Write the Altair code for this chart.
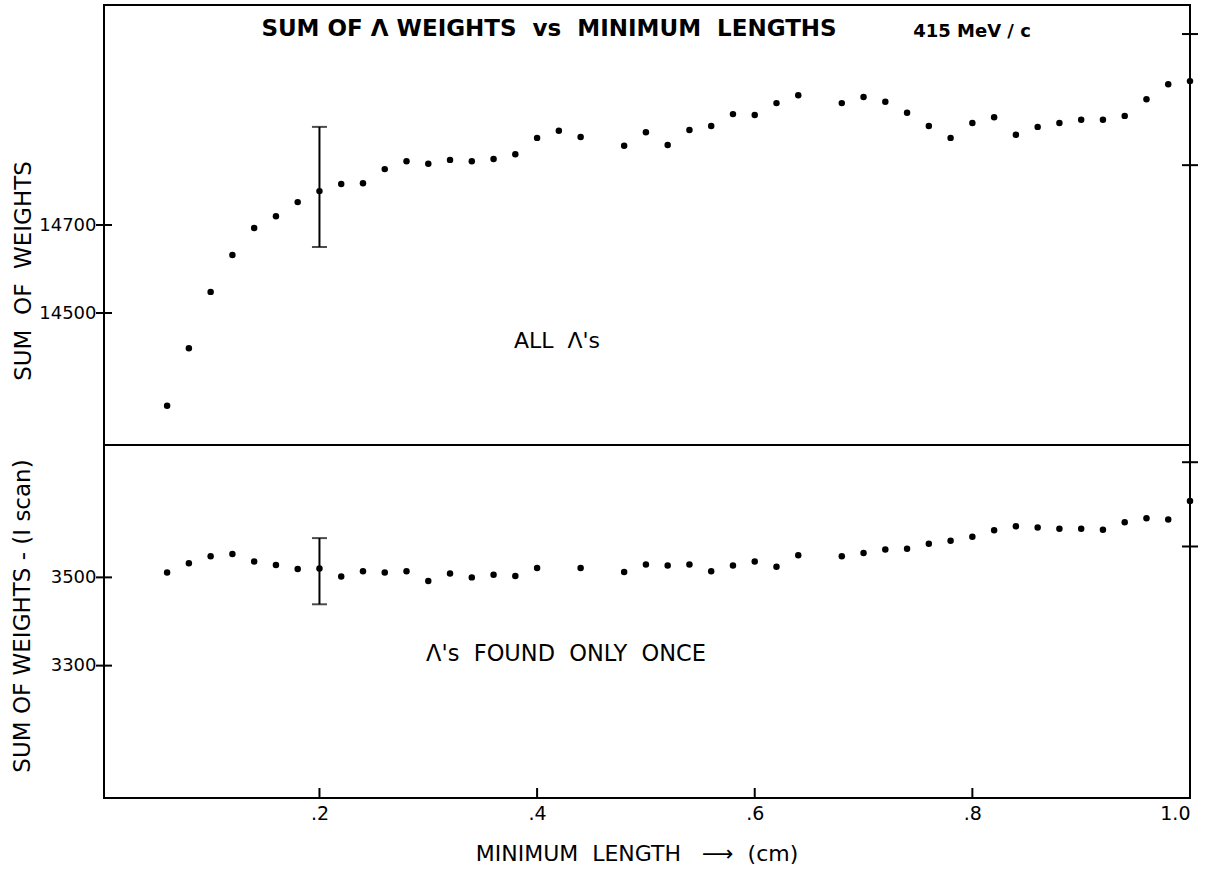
import altair as alt
import pandas as pd

# ---------------- data ----------------
x_top = [0.06, 0.08, 0.10, 0.12, 0.14, 0.16, 0.18, 0.20, 0.22, 0.24,
         0.26, 0.28, 0.30, 0.32, 0.34, 0.36, 0.38, 0.40, 0.42, 0.44,
         0.48, 0.50, 0.52, 0.54, 0.56, 0.58, 0.60, 0.62, 0.64,
         0.68, 0.70, 0.72, 0.74, 0.76, 0.78, 0.80, 0.82, 0.84, 0.86,
         0.88, 0.90, 0.92, 0.94, 0.96, 0.98, 1.00]
y_top = [14289, 14420, 14548, 14632, 14693, 14720, 14752, 14777, 14793, 14795,
         14827, 14845, 14839, 14848, 14845, 14850, 14861, 14898, 14914, 14900,
         14880, 14911, 14882, 14916, 14925, 14952, 14950, 14977, 14995,
         14977, 14991, 14980, 14955, 14925, 14898, 14932, 14945, 14905, 14923,
         14932, 14939, 14939, 14948, 14986, 15020, 15027]

x_bot = [0.06, 0.08, 0.10, 0.12, 0.14, 0.16, 0.18, 0.20, 0.22, 0.24,
         0.26, 0.28, 0.30, 0.32, 0.34, 0.36, 0.38, 0.40, 0.44,
         0.48, 0.50, 0.52, 0.54, 0.56, 0.58, 0.60, 0.62, 0.64,
         0.68, 0.70, 0.72, 0.74, 0.76, 0.78, 0.80, 0.82, 0.84, 0.86,
         0.88, 0.90, 0.92, 0.94, 0.96, 0.98, 1.00]
y_bot = [3511, 3532, 3548, 3553, 3536, 3528, 3519, 3520, 3502, 3514,
         3511, 3514, 3492, 3509, 3500, 3506, 3503, 3521, 3521,
         3512, 3529, 3527, 3529, 3514, 3527, 3536, 3524, 3550,
         3548, 3555, 3563, 3565, 3576, 3583, 3592, 3607, 3616, 3613,
         3610, 3610, 3608, 3625, 3634, 3631, 3673]

# error bars (x, low, high)
err_top_x, err_top_lo, err_top_hi = 0.20, 14650, 14923
err_bot_x, err_bot_lo, err_bot_hi = 0.20, 3439, 3589

# axis ticks
top_left_ticks = [14500, 14700]
top_right_ticks = [14836, 15134]
bot_left_ticks = [3300, 3500]
bot_right_ticks = [3570, 3761]
x_ticks = [0.2, 0.4, 0.6, 0.8, 1.0]

# ---------------- layout constants ----------------
W = 1086
H_TOP = 440
H_BOT = 353
FONT = "DejaVu Sans"
S = "\u00a0"  # non-breaking space for wide lettering gaps

xscale = alt.Scale(domain=[0.002, 1.0], nice=False, zero=False)
yscale_top = alt.Scale(domain=[14200, 15200], nice=False, zero=False)
yscale_bot = alt.Scale(domain=[3000, 3800], nice=False, zero=False)

yaxis_top = alt.Axis(values=top_left_ticks, format="d", ticks=False, domain=False,
                     grid=False, labelPadding=8, labelFontSize=18, labelFont=FONT,
                     labelColor="black", title=None)
yaxis_bot = alt.Axis(values=bot_left_ticks, format="d", ticks=False, domain=False,
                     grid=False, labelPadding=8, labelFontSize=18, labelFont=FONT,
                     labelColor="black", title=None)
xaxis_bot = alt.Axis(values=x_ticks, ticks=False, domain=False, grid=False,
                     labelExpr="datum.value >= 1 ? '1.0' : '.' + format(datum.value * 10, 'd')",
                     labelPadding=6, labelFontSize=19, labelFont=FONT,
                     labelColor="black", title=None)


def text_layer(txt, x, y, size, angle=0, weight="normal"):
    kw = dict(text=txt, font=FONT, fontSize=size, fontWeight=weight, color="black",
              align="center", baseline="middle")
    if angle:
        kw["angle"] = angle
    return alt.Chart(pd.DataFrame({"d": [0]})).mark_text(**kw).encode(
        x=alt.value(x), y=alt.value(y))


DOT = 42

# ---------------- top panel ----------------
df_top = pd.DataFrame({"x": x_top, "y": y_top})
pts_top = alt.Chart(df_top).mark_circle(size=DOT, color="black", opacity=1).encode(
    x=alt.X("x:Q", scale=xscale, axis=None),
    y=alt.Y("y:Q", scale=yscale_top, axis=yaxis_top),
)
err_top = alt.Chart(pd.DataFrame({"x": [err_top_x], "lo": [err_top_lo], "hi": [err_top_hi]})).mark_rule(
    color="black", strokeWidth=2).encode(
    x=alt.X("x:Q", scale=xscale, axis=None),
    y=alt.Y("lo:Q", scale=yscale_top, axis=yaxis_top),
    y2="hi:Q",
)
cap_top = alt.Chart(pd.DataFrame({"x": [err_top_x, err_top_x], "y": [err_top_lo, err_top_hi]})).mark_tick(
    color="black", orient="horizontal", size=15, thickness=2).encode(
    x=alt.X("x:Q", scale=xscale, axis=None),
    y=alt.Y("y:Q", scale=yscale_top, axis=yaxis_top),
)
lt_top = alt.Chart(pd.DataFrame({"y": top_left_ticks})).mark_rule(color="black", strokeWidth=2).encode(
    y=alt.Y("y:Q", scale=yscale_top, axis=yaxis_top), x=alt.value(-8), x2=alt.value(8))
rt_top = alt.Chart(pd.DataFrame({"y": top_right_ticks})).mark_rule(color="black", strokeWidth=2).encode(
    y=alt.Y("y:Q", scale=yscale_top, axis=yaxis_top), x=alt.value(W - 8), x2=alt.value(W + 8))

top = alt.layer(
    pts_top, err_top, cap_top, lt_top, rt_top,
    text_layer(f"SUM OF Λ WEIGHTS{S}{S}vs{S}{S}MINIMUM{S}{S}LENGTHS", 445, 24, 23, weight="bold"),
    text_layer(f"415{S}MeV{S}/{S}c", 868, 27, 18, weight="bold"),
    text_layer(f"ALL{S}{S}Λ's", 453, 336, 22),
    text_layer(f"SUM{S}{S}OF{S}{S}WEIGHTS", -80, 266, 23, angle=270),
).properties(width=W, height=H_TOP)

# ---------------- bottom panel ----------------
df_bot = pd.DataFrame({"x": x_bot, "y": y_bot})
pts_bot = alt.Chart(df_bot).mark_circle(size=DOT, color="black", opacity=1).encode(
    x=alt.X("x:Q", scale=xscale, axis=xaxis_bot),
    y=alt.Y("y:Q", scale=yscale_bot, axis=yaxis_bot),
)
err_bot = alt.Chart(pd.DataFrame({"x": [err_bot_x], "lo": [err_bot_lo], "hi": [err_bot_hi]})).mark_rule(
    color="black", strokeWidth=2).encode(
    x=alt.X("x:Q", scale=xscale, axis=xaxis_bot),
    y=alt.Y("lo:Q", scale=yscale_bot, axis=yaxis_bot),
    y2="hi:Q",
)
cap_bot = alt.Chart(pd.DataFrame({"x": [err_bot_x, err_bot_x], "y": [err_bot_lo, err_bot_hi]})).mark_tick(
    color="black", orient="horizontal", size=15, thickness=2).encode(
    x=alt.X("x:Q", scale=xscale, axis=xaxis_bot),
    y=alt.Y("y:Q", scale=yscale_bot, axis=yaxis_bot),
)
lt_bot = alt.Chart(pd.DataFrame({"y": bot_left_ticks})).mark_rule(color="black", strokeWidth=2).encode(
    y=alt.Y("y:Q", scale=yscale_bot, axis=yaxis_bot), x=alt.value(-8), x2=alt.value(8))
rt_bot = alt.Chart(pd.DataFrame({"y": bot_right_ticks})).mark_rule(color="black", strokeWidth=2).encode(
    y=alt.Y("y:Q", scale=yscale_bot, axis=yaxis_bot), x=alt.value(W - 8), x2=alt.value(W + 8))
xt_bot = alt.Chart(pd.DataFrame({"x": x_ticks})).mark_rule(color="black", strokeWidth=2).encode(
    x=alt.X("x:Q", scale=xscale, axis=xaxis_bot), y=alt.value(H_BOT), y2=alt.value(H_BOT - 10))

bottom = alt.layer(
    pts_bot, err_bot, cap_bot, lt_bot, rt_bot, xt_bot,
    text_layer(f"Λ's{S}{S}FOUND{S}{S}ONLY{S}{S}ONCE", 462, 209, 22.5),
    text_layer(f"MINIMUM{S}{S}LENGTH{S}{S}{S}⟶{S}{S}(cm)", 533, 409, 22),
    text_layer("SUM OF WEIGHTS - (I scan)", -81, 171, 23, angle=270),
).properties(width=W, height=H_BOT)

chart = alt.vconcat(top, bottom, spacing=0).properties(
    bounds="flush",
    padding={"left": 11, "top": 4, "right": 5, "bottom": 0},
    background="white",
).configure_view(stroke="black", strokeWidth=2)

chart.save("out.html", embed_options={"renderer": "svg", "actions": False})
